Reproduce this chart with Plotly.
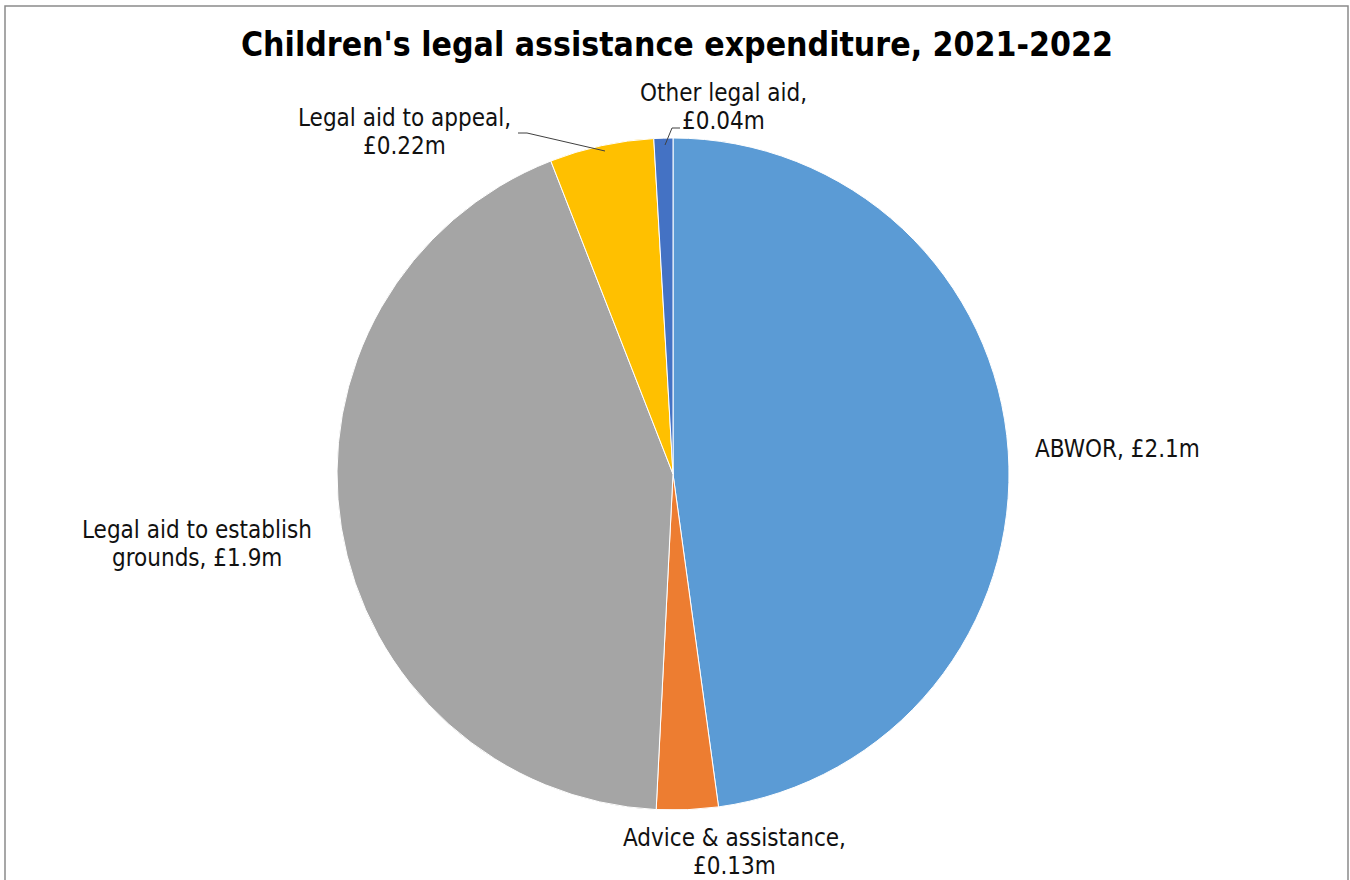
import plotly.graph_objects as go

categories = ["ABWOR", "Advice & assistance", "Legal aid to establish grounds",
              "Legal aid to appeal", "Other legal aid"]
values = [2.1, 0.13, 1.9, 0.22, 0.04]
value_labels = ["£2.1m", "£0.13m", "£1.9m", "£0.22m", "£0.04m"]
colors = ["#5B9BD5", "#ED7D31", "#A5A5A5", "#FFC000", "#4472C4"]
title_text = "Children's legal assistance expenditure, 2021-2022"

W, H = 1350, 880
FONT = "DejaVu Sans Condensed, Tahoma, DejaVu Sans, sans-serif"

cx, cy, r = 673, 474, 336

fig = go.Figure(go.Pie(
    labels=categories,
    values=values,
    sort=False,
    direction="clockwise",
    rotation=0,
    marker=dict(colors=colors, line=dict(color="white", width=1)),
    textinfo="none",
    hoverinfo="label+value",
    showlegend=False,
    domain=dict(x=[(cx - r) / W, (cx + r) / W],
                y=[(H - cy - r) / H, (H - cy + r) / H]),
))

def px(x):
    return x / W

def py(y):
    return 1 - y / H

# label lines (each label wrapped as in the reference)
est_words = categories[2].split(" ")
label_lines = [
    [f"{categories[0]}, {value_labels[0]}"],
    [f"{categories[1]},", value_labels[1]],
    [" ".join(est_words[:-1]), f"{est_words[-1]}, {value_labels[2]}"],
    [f"{categories[3]},", value_labels[3]],
    [f"{categories[4]},", value_labels[4]],
]
# (center x, first line center y)
label_pos = [(1117, 449), (734, 838), (197, 530), (404, 118), (723, 93)]
LINE_GAP = 28

annotations = []
for lines, (x, y) in zip(label_lines, label_pos):
    for i, t in enumerate(lines):
        annotations.append(dict(
            x=px(x), y=py(y + i * LINE_GAP), xref="paper", yref="paper", text=t,
            showarrow=False, xanchor="center", yanchor="middle", align="center",
            font=dict(family=FONT, size=24, color="#111111"),
        ))
annotations.append(dict(
    x=px(677), y=py(44), xref="paper", yref="paper", text=f"<b>{title_text}</b>",
    showarrow=False, xanchor="center", yanchor="middle",
    font=dict(family=FONT, size=33.5, color="#000000"),
))

shapes = [
    dict(type="rect", xref="paper", yref="paper", x0=px(5), y0=py(884), x1=px(1348), y1=py(6),
         line=dict(color="#8a8a8a", width=1.5), fillcolor="rgba(0,0,0,0)", layer="below"),
    # leader lines
    dict(type="path", xref="paper", yref="paper",
         path=f"M {px(518)},{py(133)} L {px(527)},{py(133)} L {px(605)},{py(151)}",
         line=dict(color="#404040", width=1)),
    dict(type="path", xref="paper", yref="paper",
         path=f"M {px(680)},{py(128)} L {px(672)},{py(128)} L {px(665)},{py(145)}",
         line=dict(color="#404040", width=1)),
]

fig.update_layout(
    width=W, height=H,
    margin=dict(l=0, r=0, t=0, b=0),
    paper_bgcolor="white", plot_bgcolor="white",
    annotations=annotations, shapes=shapes,
)

fig.write_html("out.html")
